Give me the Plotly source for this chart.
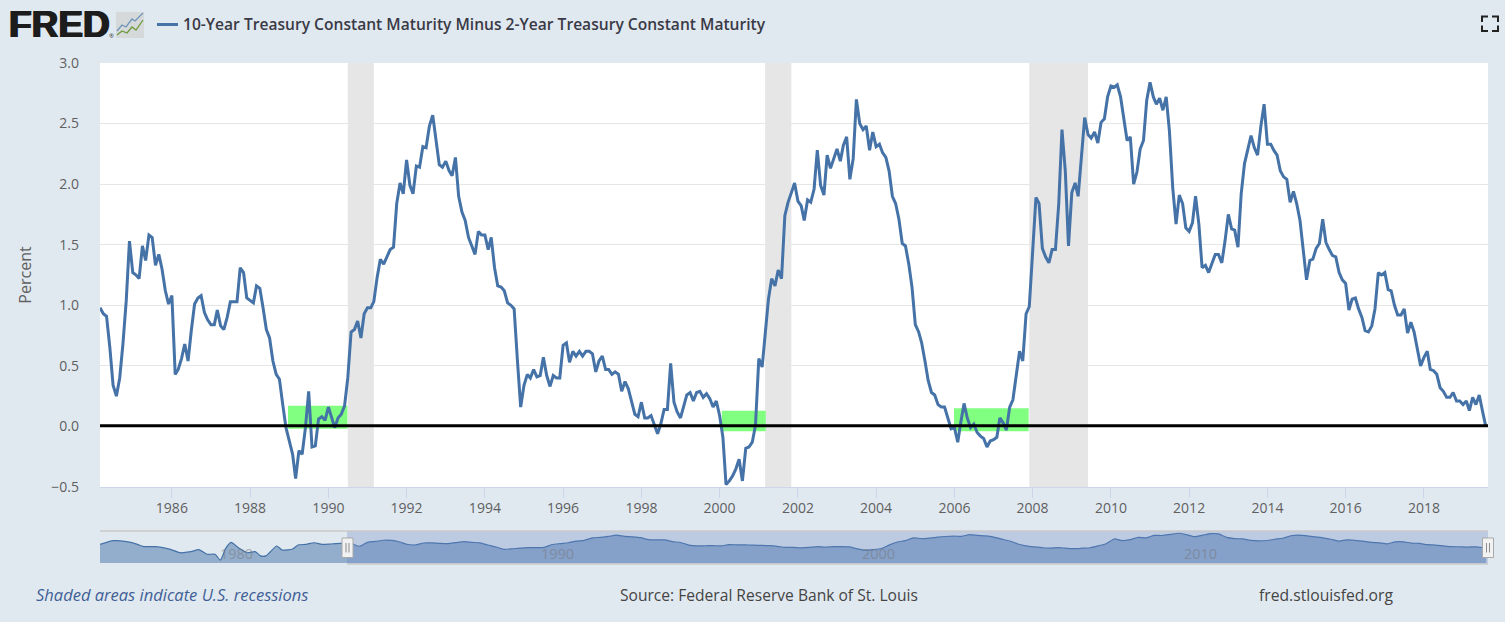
import pandas as pd
import plotly.graph_objects as go

TITLE = "10-Year Treasury Constant Maturity Minus 2-Year Treasury Constant Maturity"
SERIES_START = "1984-03-01"

spread_1984_1992 = [
    0.98, 0.93, 0.91, 0.65, 0.34, 0.25, 0.40, 0.68, 1.04, 1.53, 1.27, 1.25, 1.22, 1.49, 1.37, 1.58, 1.56, 1.33, 1.42, 1.30,
    1.12, 1.01, 1.08, 0.43, 0.47, 0.56, 0.68, 0.54, 0.79, 1.01, 1.06, 1.08, 0.94, 0.88, 0.84, 0.84, 0.96, 0.83, 0.80, 0.90,
    1.03, 1.03, 1.03, 1.31, 1.27, 1.06, 1.04, 1.02, 1.16, 1.14, 0.98, 0.80, 0.73, 0.54, 0.43, 0.39, 0.18, -0.01, -0.12, -0.23,
    -0.43, -0.20, -0.23, -0.01, 0.29, -0.17, -0.16, 0.06, 0.08, 0.05, 0.16, 0.07, -0.01, 0.07, 0.10, 0.17, 0.40, 0.78, 0.80, 0.87,
    0.73, 0.93, 0.98, 0.98, 1.03, 1.23, 1.38, 1.34, 1.40, 1.46, 1.48, 1.84, 2.01, 1.92, 2.20, 1.99, 1.92, 2.15, 2.14, 2.31,
    2.30, 2.48, 2.57, 2.37, 2.16, 2.14, 2.19,
]
spread_1993_2001 = [
    2.11, 2.07, 2.22, 1.90, 1.77, 1.70, 1.56, 1.49, 1.42, 1.61, 1.58, 1.58, 1.46, 1.56, 1.31, 1.16, 1.15, 1.12, 1.02, 1.00,
    0.97, 0.54, 0.16, 0.34, 0.43, 0.40, 0.47, 0.41, 0.42, 0.57, 0.42, 0.33, 0.42, 0.40, 0.40, 0.67, 0.69, 0.53, 0.62, 0.58,
    0.62, 0.58, 0.62, 0.62, 0.60, 0.45, 0.54, 0.58, 0.47, 0.47, 0.43, 0.45, 0.43, 0.29, 0.37, 0.31, 0.20, 0.10, 0.08, 0.20,
    0.07, 0.07, 0.09, 0.02, -0.06, 0.02, 0.14, 0.14, 0.52, 0.20, 0.12, 0.07, 0.16, 0.26, 0.28, 0.21, 0.28, 0.29, 0.24, 0.27,
    0.23, 0.16, 0.21, 0.09, -0.09, -0.48, -0.45, -0.41, -0.35, -0.27, -0.45, -0.18, -0.17, -0.13, 0.01, 0.56, 0.49, 0.76, 1.05, 1.22,
    1.16, 1.29, 1.22, 1.74, 1.85, 1.93, 2.01, 1.86, 1.82,
]
spread_2002_2010 = [
    1.70, 1.87, 1.85, 1.96, 2.28, 1.99, 1.91, 2.24, 2.13, 2.21, 2.29, 2.19, 2.32, 2.39, 2.04, 2.21, 2.70, 2.50, 2.45, 2.48,
    2.28, 2.43, 2.31, 2.33, 2.26, 2.22, 2.11, 1.90, 1.84, 1.71, 1.51, 1.49, 1.34, 1.15, 0.84, 0.78, 0.69, 0.54, 0.38, 0.28,
    0.26, 0.18, 0.16, 0.16, 0.07, -0.02, -0.01, -0.13, 0.03, 0.19, 0.07, -0.01, 0.02, -0.05, -0.08, -0.10, -0.17, -0.12, -0.11, -0.09,
    0.07, 0.03, -0.03, 0.16, 0.22, 0.40, 0.62, 0.54, 0.93, 0.99, 1.42, 1.89, 1.84, 1.47, 1.40, 1.35, 1.46, 1.46, 1.84, 2.45,
    2.11, 1.49, 1.93, 2.01, 1.90, 2.25, 2.55, 2.41, 2.38, 2.43, 2.34, 2.51, 2.54, 2.72, 2.81, 2.80, 2.82, 2.72, 2.55, 2.36,
    2.39, 2.00, 2.10, 2.29, 2.36, 2.69,
]
spread_2011_2019 = [
    2.84, 2.72, 2.66, 2.71, 2.61, 2.72, 2.44, 1.97, 1.67, 1.91, 1.84, 1.64, 1.61, 1.68, 1.90, 1.67, 1.31, 1.33, 1.27, 1.35,
    1.42, 1.42, 1.35, 1.53, 1.75, 1.63, 1.62, 1.48, 1.92, 2.17, 2.29, 2.40, 2.30, 2.24, 2.48, 2.66, 2.33, 2.33, 2.28, 2.24,
    2.11, 2.06, 2.04, 1.85, 1.94, 1.84, 1.70, 1.48, 1.21, 1.37, 1.38, 1.47, 1.51, 1.71, 1.52, 1.46, 1.41, 1.40, 1.27, 1.21,
    1.18, 0.96, 1.05, 1.06, 0.97, 0.90, 0.79, 0.78, 0.83, 0.97, 1.27, 1.25, 1.27, 1.13, 1.12, 1.00, 0.92, 0.92, 0.97, 0.77,
    0.86, 0.78, 0.64, 0.50, 0.57, 0.62, 0.47, 0.46, 0.43, 0.32, 0.29, 0.24, 0.24, 0.28, 0.21, 0.21, 0.18, 0.21, 0.13, 0.24,
    0.18, 0.26, 0.13, 0.00,
]
spread = spread_1984_1992 + spread_1993_2001 + spread_2002_2010 + spread_2011_2019
months = pd.date_range(SERIES_START, periods=len(spread), freq="MS")

early_dates = [
    "1976-06-01", "1976-11-01", "1977-04-01", "1977-08-01", "1977-10-01", "1978-03-01", "1978-08-01", "1978-12-01",
    "1979-04-01", "1979-07-01", "1979-10-01", "1980-01-01", "1980-03-01", "1980-05-01", "1980-07-01", "1980-10-01",
    "1981-01-01", "1981-04-01", "1981-06-01", "1981-08-01", "1981-12-01", "1982-02-01", "1982-06-01", "1982-08-01",
    "1982-11-01", "1983-02-01", "1983-05-01", "1983-08-01", "1984-01-01",
]
early_spread = [
    0.70, 1.40, 1.20, 0.70, 0.30, 0.25, -0.20, -0.90, -0.70, -0.30, -1.20, -1.20, -2.30, -0.07, 1.08, -0.07,
    -0.90, -0.70, -1.50, -1.50, 0.38, -0.38, -0.19, 0.57, 0.70, 1.00, 0.70, 0.76, 0.95,
]

recession_start = ["1990-07-01", "2001-03-01", "2007-12-01"]
recession_end = ["1991-03-01", "2001-11-01", "2009-06-01"]

band_start = ["1988-12-20", "2000-01-22", "2005-12-28"]
band_end = ["1990-06-28", "2001-03-07", "2007-11-25"]
band_low = [-0.02, -0.04, -0.04]
band_high = [0.17, 0.13, 0.15]

main_range = ["1984-03-01", "2019-08-22"]
nav_range = ["1976-06-01", "2019-08-22"]
nav_selection_start = "1984-02-10"
nav_y_range = [-2.86, 3.24]
nav_labels = ["1980", "1990", "2000", "2010"]
y_ticks = [-0.5, 0.0, 0.5, 1.0, 1.5, 2.0, 2.5, 3.0]

BG = "#e1e9f0"
LINE = "#4572a7"
TEXT = "#5f5f5f"
GRID = "#e6e6e6"
AXIS = "#ccd6eb"
FONT = "Open Sans"

L, R, T, B = 100, 1488, 63, 563


def px(v):
    return (v - L) / (R - L)


def py(v):
    return (B - v) / (B - T)


fig = go.Figure()
fig.add_trace(go.Scatter(x=months, y=spread, name=TITLE, mode="lines",
                         line=dict(color=LINE, width=3), xaxis="x", yaxis="y",
                         hoverinfo="x+y", showlegend=False))

# the navigator groups the monthly data into coarser points, as the original does
grouped = pd.Series(spread, index=months).resample("QS").mean()
nav_x = pd.to_datetime(early_dates).append(grouped.index)
nav_y = early_spread + grouped.round(3).tolist()
fig.add_trace(go.Scatter(x=[nav_x[0], months[-1]], y=[nav_y_range[0]] * 2, mode="lines",
                         line=dict(width=0), xaxis="x2", yaxis="y2",
                         hoverinfo="skip", showlegend=False))
fig.add_trace(go.Scatter(x=list(nav_x) + [months[-1]], y=nav_y + [spread[-1]], mode="lines",
                         line=dict(color=LINE, width=1.2, shape="spline", smoothing=0.6),
                         fill="tonexty", fillcolor="rgba(69,114,167,0.5)", xaxis="x2", yaxis="y2",
                         hoverinfo="skip", showlegend=False))

shapes = [dict(type="rect", xref="paper", yref="paper", x0=0, x1=1, y0=0, y1=py(531),
               fillcolor=BG, line_width=0, layer="below")]
for s, e in zip(recession_start, recession_end):
    shapes.append(dict(type="rect", xref="x", yref="y domain", x0=s, x1=e, y0=0, y1=1,
                       fillcolor="#e6e6e6", line_width=0, layer="below"))
for s, e, lo, hi in zip(band_start, band_end, band_low, band_high):
    shapes.append(dict(type="rect", xref="x", yref="y", x0=s, x1=e, y0=lo, y1=hi,
                       fillcolor="#80ff80", line_width=0, layer="below"))
shapes.append(dict(type="line", xref="x domain", yref="y", x0=0, x1=1, y0=0.005, y1=0.005,
                   line=dict(color="#000000", width=3), layer="above"))

# navigator furniture
shapes += [
    dict(type="rect", xref="x2", yref="paper", x0=nav_selection_start, x1=nav_range[1], y0=py(564), y1=py(531),
         fillcolor="rgba(102,133,194,0.3)", line_width=0, layer="above"),
    dict(type="line", xref="paper", yref="paper", x0=0, x1=1, y0=py(531), y1=py(531),
         line=dict(color="#c9c9c9", width=1.4), layer="above"),
    dict(type="line", xref="x2", yref="paper", x0=nav_selection_start, x1=nav_range[1], y0=py(564), y1=py(564),
         line=dict(color="#c9c9c9", width=1.4), layer="above"),
]
for cx in (347.5, 1488):
    shapes.append(dict(type="rect", xref="paper", yref="paper", x0=px(cx - 5.5), x1=px(cx + 5.5),
                       y0=py(557.5), y1=py(538), fillcolor="#f2f2f2",
                       line=dict(color="#a9a9a9", width=1), layer="above"))
    for dx in (-1.5, 1.5):
        shapes.append(dict(type="line", xref="paper", yref="paper", x0=px(cx + dx), x1=px(cx + dx),
                           y0=py(552.5), y1=py(543), line=dict(color="#8c8c8c", width=1), layer="above"))

# header furniture
shapes.append(dict(type="line", xref="paper", yref="paper", x0=px(157), x1=px(178), y0=py(24.5), y1=py(24.5),
                   line=dict(color=LINE, width=3), layer="above"))
shapes.append(dict(type="rect", xref="paper", yref="paper", x0=px(116), x1=px(144), y0=py(38), y1=py(12),
                   fillcolor="#d6d9da", line_width=0, layer="above"))
for colour, pts in (("#6f95b8", [(117, 31), (122, 25), (126, 27), (132, 19), (135, 21), (143, 13)]),
                    ("#6f9a3c", [(117, 35), (122, 31), (127, 33), (132, 27), (136, 30), (143, 20)])):
    path = "M" + " L".join(f"{px(a):.5f},{py(b):.5f}" for a, b in pts)
    shapes.append(dict(type="path", xref="paper", yref="paper", path=path,
                       line=dict(color=colour, width=1.3), layer="above"))
for xa, xb, ya, yb in ((1482, 1488, 16.5, 22), (1498, 1492, 16.5, 22), (1482, 1488, 31, 25.5), (1498, 1492, 31, 25.5)):
    path = f"M{px(xa):.5f},{py(yb):.5f} L{px(xa):.5f},{py(ya):.5f} L{px(xb):.5f},{py(ya):.5f}"
    shapes.append(dict(type="path", xref="paper", yref="paper", path=path,
                       line=dict(color="#222222", width=2), layer="above"))


def note(text, x, y, size, color, xanchor="left", italic=False, family=FONT, weight="normal", shadow=None):
    font = dict(family=family, size=size, color=color, style="italic" if italic else "normal", weight=weight)
    if shadow:
        font["shadow"] = shadow
    return dict(text=text, xref="paper", yref="paper", x=px(x), y=py(y), xanchor=xanchor, yanchor="middle",
                showarrow=False, font=font)


annotations = [
    note("FRED", 7, 25, 37, "#1c1c1c", family="Liberation Sans", weight="bold",
         shadow="0.9px 0 0 #1c1c1c,-0.9px 0 0 #1c1c1c"),
    note("®", 107, 36, 6, "#333333"),
    note(TITLE, 181, 24, 15.6, "#3a3a46", weight=600),
    note("Shaded areas indicate U.S. recessions", 34, 594.5, 16.5, "#3f6096", italic=True),
    note("Source: Federal Reserve Bank of St. Louis", 769, 595, 15.6, "#444444", xanchor="center"),
    note("fred.stlouisfed.org", 1326, 595, 15.7, "#444444", xanchor="center"),
]
for label in nav_labels:
    annotations.append(dict(text=label, xref="x2", yref="paper", x=f"{label}-01-01", y=py(553), xanchor="left",
                            yanchor="middle", xshift=3, showarrow=False,
                            font=dict(family=FONT, size=14.5, color="rgba(120,120,120,0.55)")))

fig.update_layout(
    width=1505, height=622, autosize=False,
    margin=dict(l=L, r=1505 - R, t=T, b=622 - B, pad=0),
    paper_bgcolor=BG, plot_bgcolor="#ffffff",
    font=dict(family=FONT, size=14, color=TEXT),
    showlegend=False,
    shapes=shapes, annotations=annotations,
    xaxis=dict(anchor="y", domain=[0, 1], type="date", range=main_range, tick0="1986-01-01", dtick="M24",
               tickformat="%Y", showgrid=False, ticks="outside", ticklen=10, tickcolor=AXIS, tickwidth=1,
               showline=True, linecolor=AXIS, linewidth=1, zeroline=False, ticklabelstandoff=-2,
               tickfont=dict(family=FONT, size=14, color=TEXT)),
    yaxis=dict(anchor="x", domain=[py(487), 1], range=[-0.5, 3.0], tickvals=y_ticks, tickformat=".1f",
               showgrid=True, gridcolor=GRID, gridwidth=1, zeroline=False, showline=False,
               ticks="", ticklabelstandoff=20, tickfont=dict(family=FONT, size=14, color=TEXT),
               title=dict(text="Percent", standoff=15, font=dict(family=FONT, size=16, color=TEXT))),
    xaxis2=dict(anchor="y2", domain=[0, 1], type="date", range=nav_range, showgrid=False, ticks="",
                showline=False, zeroline=False, showticklabels=False),
    yaxis2=dict(anchor="x2", domain=[0, py(531)], range=nav_y_range, showgrid=False, zeroline=False,
                showticklabels=False, ticks="", showline=False),
)

fig.write_html("out.html", config=dict(displayModeBar=False),
               post_script="document.body.style.margin='0';document.body.style.background='#e1e9f0';document.body.style.overflow='hidden';")
